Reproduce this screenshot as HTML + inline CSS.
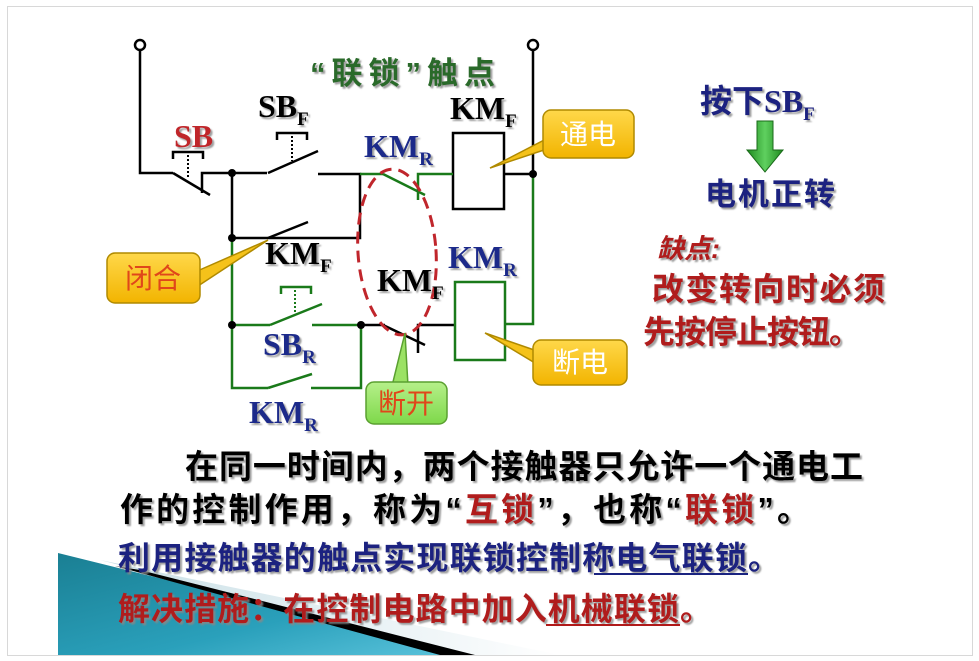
<!DOCTYPE html>
<html><head><meta charset="utf-8">
<style>
html,body{margin:0;padding:0;background:#fff;}
svg{display:block;}
.cn{font-family:"Liberation Sans","Noto Sans CJK SC",sans-serif;font-weight:bold;}
.lat{font-family:"Liberation Serif",serif;font-weight:bold;}
</style></head><body>
<svg width="979" height="661" viewBox="0 0 979 661" xmlns="http://www.w3.org/2000/svg">
<defs>
<linearGradient id="teal" x1="0" y1="0" x2="1" y2="1">
<stop offset="0" stop-color="#1a7f93"/><stop offset="0.6" stop-color="#2aa0bb"/><stop offset="1" stop-color="#5cc4dc"/>
</linearGradient>
<linearGradient id="lite" x1="0" y1="0" x2="1" y2="0">
<stop offset="0" stop-color="#c9dfe6"/><stop offset="1" stop-color="#ffffff"/>
</linearGradient>
<linearGradient id="yel" x1="0" y1="0" x2="0" y2="1">
<stop offset="0" stop-color="#ffd84a"/><stop offset="1" stop-color="#f2b400"/>
</linearGradient>
<linearGradient id="grn" x1="0" y1="0" x2="0" y2="1">
<stop offset="0" stop-color="#b6f08a"/><stop offset="1" stop-color="#7ed84a"/>
</linearGradient>
<linearGradient id="arr" x1="0" y1="0" x2="1" y2="0">
<stop offset="0" stop-color="#1f8a1f"/><stop offset="0.5" stop-color="#5fd05f"/><stop offset="1" stop-color="#1f8a1f"/>
</linearGradient>
<filter id="sh" x="-5%" y="-5%" width="110%" height="120%"><feDropShadow dx="2" dy="2" stdDeviation="0.8" flood-color="#888" flood-opacity="0.8"/></filter>
</defs>
<rect x="7.5" y="6.5" width="965" height="649" fill="#fff" stroke="#d8d8d8"/>
<!-- bottom decoration -->
<polygon points="58,553 58,655 470,655" fill="url(#teal)"/>
<polygon points="100,560 470,655 560,655" fill="url(#lite)"/>
<polygon points="115,566 440,655 475,655 140,570" fill="#000"/>

<!-- circuit black -->
<g fill="none" stroke="#000" stroke-width="2.5">
<circle cx="140" cy="45" r="5" fill="#fff"/>
<circle cx="533" cy="45" r="5" fill="#fff"/>
<polyline points="140,50 140,173 173,173"/>
<line x1="173" y1="173" x2="210" y2="195"/>
<polyline points="202,193 202,173 267,173"/>
<line x1="268" y1="173" x2="318" y2="151"/>
<polyline points="318,174 360,174 360,238 232,238 232,173"/>
<line x1="268" y1="238" x2="308" y2="222"/>
<rect x="453" y="133" width="51" height="76"/>
<polyline points="504,174 533,174 533,50"/>
<path d="M173,159 V152 H203 V159"/>
<path d="M277,140 V133 H307 V140"/>
<polyline points="362,325 385,325"/>
<line x1="383" y1="325" x2="425" y2="345"/>
<polyline points="418,353 418,325 455,325"/>
</g>
<g stroke="#000" stroke-width="2" stroke-dasharray="2,2">
<line x1="188" y1="155" x2="188" y2="178"/>
<line x1="292" y1="136" x2="292" y2="161"/>
</g>
<!-- green -->
<g fill="none" stroke="#1a7a1a" stroke-width="2.5">
<polyline points="360,174 383,174"/>
<line x1="383" y1="174" x2="425" y2="195"/>
<polyline points="418,200 418,174 453,174"/>
<polyline points="533,174 533,324 505,324"/>
<rect x="455" y="282" width="50" height="78"/>
<polyline points="232,238 232,388 268,388"/>
<line x1="268" y1="388" x2="312" y2="374"/>
<polyline points="311,388 361,388 361,325 312,325"/>
<polyline points="232,325 270,325"/>
<line x1="270" y1="325" x2="322" y2="304"/>
<path d="M281,294 V287 H311 V294"/>
</g>
<line x1="295" y1="290" x2="295" y2="314" stroke="#1a7a1a" stroke-width="2" stroke-dasharray="2,2"/>
<g fill="#000">
<circle cx="232" cy="173" r="4"/><circle cx="232" cy="238" r="4"/><circle cx="232" cy="325" r="4"/>
<circle cx="533" cy="174" r="4"/><circle cx="361" cy="325" r="4"/>
</g>
<ellipse cx="397" cy="252" rx="39" ry="83" fill="none" stroke="#c0262c" stroke-width="3" stroke-dasharray="12,7" transform="rotate(-4 397 252)"/>

<!-- callouts -->
<g stroke="#b08a00" stroke-width="1.5">
<path d="M550,148 L490,168 L552,136 Z" fill="#f5c21a"/>
<rect x="543" y="110" width="91" height="48" rx="8" fill="url(#yel)"/>
<path d="M195,272 L268,240 L195,288 Z" fill="#f5c21a"/>
<rect x="107" y="253" width="93" height="50" rx="8" fill="url(#yel)"/>
<path d="M540,352 L485,333 L540,366 Z" fill="#f5c21a"/>
<rect x="533" y="340" width="94" height="45" rx="8" fill="url(#yel)"/>
</g>
<g stroke="#5aa030" stroke-width="1.5">
<path d="M392,386 L405,333 L408,386 Z" fill="#9be264"/>
<rect x="366" y="382" width="81" height="42" rx="8" fill="url(#grn)"/>
</g>
<g class="cn" font-size="28">
<text x="588" y="144" fill="#fff" text-anchor="middle" style="font-weight:normal">通电</text>
<text x="153" y="288" fill="#e0471a" text-anchor="middle" style="font-weight:normal">闭合</text>
<text x="580" y="372" fill="#fff" text-anchor="middle" style="font-weight:normal">断电</text>
<text x="406" y="413" fill="#e0471a" text-anchor="middle" style="font-weight:normal">断开</text>
</g>

<!-- circuit labels -->
<g filter="url(#sh)">
<text x="310" y="84" class="cn" font-size="31" fill="#2a6a2a" textLength="185">“联锁”触点</text>
<g class="lat" font-size="32">
<text x="258" y="117" fill="#000">SB<tspan font-size="19" dy="8">F</tspan></text>
<text x="174" y="147" fill="#c0262c">SB</text>
<text x="364" y="157" fill="#1a2a8a">KM<tspan font-size="19" dy="8">R</tspan></text>
<text x="450" y="119" fill="#000">KM<tspan font-size="19" dy="8">F</tspan></text>
<text x="265" y="264" fill="#000">KM<tspan font-size="19" dy="8">F</tspan></text>
<text x="377" y="291" fill="#000">KM<tspan font-size="19" dy="8">F</tspan></text>
<text x="448" y="268" fill="#1a2a8a">KM<tspan font-size="19" dy="8">R</tspan></text>
<text x="263" y="355" fill="#1a2a8a">SB<tspan font-size="19" dy="8">R</tspan></text>
<text x="249" y="423" fill="#1a2a8a">KM<tspan font-size="19" dy="8">R</tspan></text>
</g>
<!-- right side -->
<text x="700" y="112" class="cn" font-size="32" fill="#1a2380">按下<tspan font-family="Liberation Serif">SB</tspan><tspan font-size="19" dy="8" font-family="Liberation Serif">F</tspan></text>
<text x="705" y="205" class="cn" font-size="31" fill="#1a2380" textLength="130">电机正转</text>
<text x="657" y="258" class="cn" font-size="27" fill="#b01a1a" font-style="italic">缺点:</text>
<text x="652" y="300" class="cn" font-size="32" fill="#b01a1a" textLength="233">改变转向时必须</text>
<text x="643" y="343" class="cn" font-size="32" fill="#b01a1a" textLength="218">先按停止按钮。</text>
<!-- bottom text -->
<text x="185" y="478" class="cn" font-size="33" fill="#000" textLength="678">在同一时间内，两个接触器只允许一个通电工</text>
<text x="120" y="521" class="cn" font-size="33" fill="#000" textLength="690">作的控制作用，称为“<tspan fill="#b01a1a">互锁</tspan>”，也称“<tspan fill="#b01a1a">联锁</tspan>”。</text>
<text x="118" y="569" class="cn" font-size="32" fill="#1a2380" textLength="662">利用接触器的触点实现联锁控制称电气联锁。</text>
<text x="118" y="620" class="cn" font-size="32" fill="#b01a1a" textLength="594">解决措施：在控制电路中加入机械联锁。</text>
</g>
<line x1="594" y1="574" x2="748" y2="574" stroke="#1a2380" stroke-width="2"/>
<line x1="546" y1="625" x2="680" y2="625" stroke="#b01a1a" stroke-width="2"/>
<!-- arrow -->
<polygon points="757,121 773,121 773,150 783,150 765,172 747,150 757,150" fill="url(#arr)" stroke="#1a6a1a" stroke-width="1"/>
</svg>
</body></html>
